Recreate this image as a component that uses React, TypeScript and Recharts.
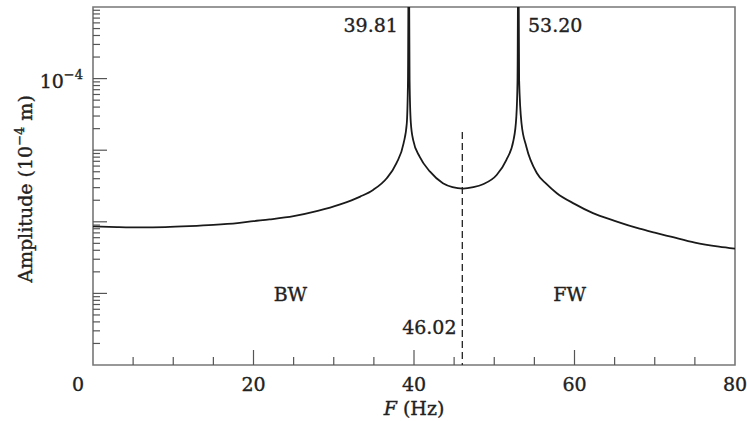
import {
  Line,
  LineChart,
  ReferenceArea,
  ReferenceDot,
  ReferenceLine,
  XAxis,
  YAxis,
} from 'recharts'

// frequency (Hz) and amplitude (m)
const FREQ = [
  0, 3, 6, 9, 12, 15, 18, 20, 22, 25, 28, 30.8, 33.3, 34.9, 36.6, 37.8, 38.7,
  39.1, 39.25, 39.35, 39.45, 39.6, 39.9, 40.7, 42, 43.6, 44.8, 46.1, 47.4, 48.6,
  50.3, 51.5, 52.4, 52.75, 52.9, 53, 53.1, 53.4, 54, 55.3, 56.5, 57.8, 60, 62.3,
  65, 68.1, 70, 72, 75, 78, 80,
]
const AMP = [
  8.62e-7, 8.45e-7, 8.36e-7, 8.45e-7, 8.7e-7, 9.05e-7, 9.6e-7, 1.02e-6,
  1.08e-6, 1.2e-6, 1.42e-6, 1.75e-6, 2.25e-6, 2.79e-6, 4.06e-6, 6.56e-6,
  1.245e-5, 2.36e-5, 9.5e-5, 1e-2, 9.5e-5, 2.46e-5, 1.38e-5, 8.11e-6, 5.01e-6,
  3.46e-6, 3.05e-6, 2.91e-6, 3.05e-6, 3.35e-6, 4.51e-6, 7.29e-6, 1.38e-5,
  2.92e-5, 9.5e-5, 1e-2, 9.5e-5, 2.36e-5, 1.12e-5, 4.81e-6, 3.38e-6, 2.51e-6,
  1.78e-6, 1.32e-6, 1.03e-6, 8.0e-7, 7.04e-7, 6.19e-7, 5.11e-7, 4.5e-7, 4.22e-7,
]

const X_TICKS = [0, 5, 10, 15, 20, 25, 30, 35, 40, 45, 50, 55, 60, 65, 70, 75, 80]
const X_LABELS = [0, 20, 40, 60, 80]
const X_LONG = [20, 40, 60]
const Y_DECADES = [1e-8, 1e-7, 1e-6, 1e-5, 1e-4, 1e-3]
const Y_MULT = [1, 2, 3, 4, 5, 6, 7, 8, 9]

const SPLIT_F = 46.02
const SPLIT_TOP = 1.8e-5

const NOTES = [
  { text: '39.81', f: 38.0, amp: 4.54e-4, anchor: 'end' },
  { text: '53.20', f: 54.2, amp: 4.47e-4, anchor: 'start' },
  { text: 'BW', f: 24.6, amp: 7.8e-8, anchor: 'middle' },
  { text: 'FW', f: 59.4, amp: 7.8e-8, anchor: 'middle' },
  { text: '46.02', f: 45.3, amp: 2.69e-8, anchor: 'end' },
]

const data = FREQ.map((f, i) => ({ f, amp: AMP[i] }))
const yTicks = Y_DECADES.slice(0, -1)
  .flatMap((d) => Y_MULT.map((m) => d * m))
  .concat([1e-3])

const FONT = "'DejaVu Serif', serif"
const INK = '#222'
// heavier strokes on the glyphs, the original face is darker than DejaVu
const txt = { fontFamily: FONT, fontSize: 19, fill: INK, stroke: INK, strokeWidth: 0.35 }

const near = (a: number, b: number) => Math.abs(a / b - 1) < 1e-6

function YTick({ x, y, payload }: any) {
  const v = payload.value
  const major = Y_DECADES.some((d) => near(v, d))
  return (
    <g>
      {!near(v, 1e-8) && !near(v, 1e-3) && (
        <line x1={x} x2={x + (major ? 14 : 7)} y1={y} y2={y} stroke="#555" strokeWidth={1.2} />
      )}
      {near(v, 1e-4) && (
        <text x={x - 10} y={y + 9} textAnchor="end" {...txt}>
          10
          <tspan dy={-9} fontSize={13}>
            −4
          </tspan>
        </text>
      )}
    </g>
  )
}

function XTick({ x, y, payload }: any) {
  const v = payload.value
  return (
    <g>
      {v > 0 && v < 80 && (
        <line x1={x} x2={x} y1={y} y2={y - (X_LONG.includes(v) ? 15 : 8)} stroke="#555" strokeWidth={1.2} />
      )}
      {X_LABELS.includes(v) && (
        <text x={x + (v === 0 ? -15 : 0)} y={y + 26} textAnchor="middle" {...txt}>
          {v}
        </text>
      )}
    </g>
  )
}

function YLabel({ viewBox }: any) {
  const cx = viewBox.x + 32
  const cy = viewBox.y + viewBox.height / 2 + 3
  return (
    <text x={cx} y={cy} transform={`rotate(-90 ${cx} ${cy})`} textAnchor="middle" {...txt}>
      Amplitude (10
      <tspan dy={-8} fontSize={13}>
        −4
      </tspan>
      <tspan dy={8}> m)</tspan>
    </text>
  )
}

function XLabel({ viewBox }: any) {
  return (
    <text x={viewBox.x + viewBox.width / 2} y={viewBox.y + 50} textAnchor="middle" {...txt}>
      <tspan fontStyle="italic">F</tspan> (Hz)
    </text>
  )
}

export default function App() {
  return (
    <div style={{ position: 'absolute', left: 0, top: 0 }}>
      <LineChart width={747} height={421} data={data} margin={{ top: 7, right: 12, left: 0, bottom: 0 }}>
        <XAxis
          dataKey="f"
          type="number"
          domain={[0, 80]}
          ticks={X_TICKS}
          interval={0}
          height={56}
          tickSize={0}
          tickMargin={0}
          axisLine={false}
          tickLine={false}
          tick={XTick}
          label={XLabel}
        />
        <YAxis
          type="number"
          scale="log"
          domain={[1e-8, 1e-3]}
          allowDataOverflow
          ticks={yTicks}
          interval={0}
          width={93}
          tickSize={0}
          tickMargin={0}
          axisLine={false}
          tickLine={false}
          tick={YTick}
          label={YLabel}
        />
        <ReferenceArea x1={0} x2={80} y1={1e-8} y2={1e-3} fill="none" stroke="#777" strokeWidth={1.6} />
        <ReferenceLine
          segment={[
            { x: SPLIT_F, y: SPLIT_TOP },
            { x: SPLIT_F, y: 1e-8 },
          ]}
          stroke={INK}
          strokeWidth={1.3}
          strokeDasharray="7 4"
        />
        <Line
          dataKey="amp"
          type="monotone"
          stroke="#1a1a1a"
          strokeWidth={1.8}
          dot={false}
          isAnimationActive={false}
        />
        {NOTES.map((n) => (
          <ReferenceDot
            key={n.text}
            x={n.f}
            y={n.amp}
            r={0}
            shape={(p: any) => (
              <text x={p.cx} y={p.cy} textAnchor={n.anchor as any} {...txt}>
                {n.text}
              </text>
            )}
          />
        ))}
      </LineChart>
    </div>
  )
}
